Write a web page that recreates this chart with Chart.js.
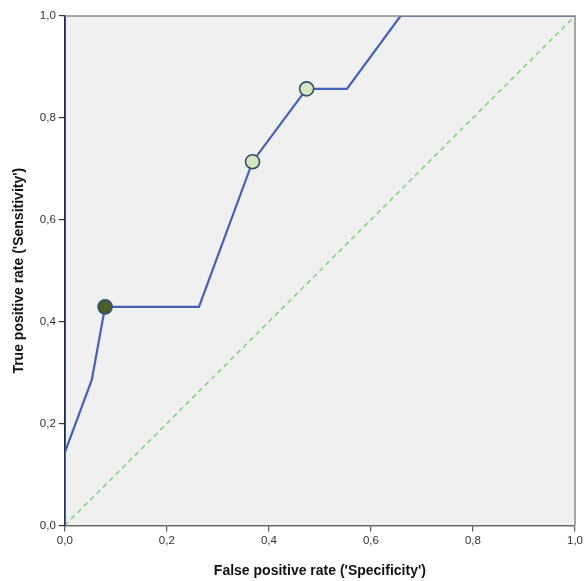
<!DOCTYPE html>
<html>
<head>
<meta charset="utf-8">
<script src="https://cdn.jsdelivr.net/npm/chart.js@4/dist/chart.umd.min.js"></script>
<style>
html,body{margin:0;padding:0;background:#fff;}
#wrap{width:584px;height:581px;position:relative;}
</style>
</head>
<body>
<div id="wrap"><canvas id="c"></canvas></div>
<script>
const rocFpr = [0, 0, 0.053, 0.079, 0.263, 0.368, 0.474, 0.553, 0.658, 1.0];
const rocTpr = [0, 0.143, 0.286, 0.429, 0.429, 0.714, 0.857, 0.857, 1.0, 1.0];
const markFpr = [0.079, 0.368, 0.474];
const markTpr = [0.429, 0.714, 0.857];
const markFill = ['#4b5f24', '#d8e6bf', '#d8e6bf'];
const diagX = [0, 1];
const diagY = [0, 1];
const tickVals = [0, 0.2, 0.4, 0.6, 0.8, 1.0];
const tickLabels = ['0,0', '0,2', '0,4', '0,6', '0,8', '1,0'];
const xTitle = "False positive rate ('Specificity')";
const yTitle = "True positive rate ('Sensitivity')";

const toPts = (xs, ys) => xs.map((x, i) => ({x: x, y: ys[i]}));

const bgPlugin = {
  id: 'bg',
  beforeDraw(chart) {
    const a = chart.chartArea, ctx = chart.ctx;
    ctx.save();
    ctx.fillStyle = '#f0f0f0';
    ctx.fillRect(a.left, a.top, a.right - a.left, a.bottom - a.top);
    ctx.restore();
  },
  afterDatasetsDraw(chart) {
    const a = chart.chartArea, ctx = chart.ctx;
    ctx.save();
    ctx.strokeStyle = '#8a8a8a';
    ctx.lineWidth = 1.5;
    ctx.beginPath();
    ctx.moveTo(a.left, a.top); ctx.lineTo(a.right, a.top); ctx.lineTo(a.right, a.bottom);
    ctx.stroke();
    ctx.restore();
  }
};

const fmt = v => {
  const i = tickVals.findIndex(t => Math.abs(t - v) < 1e-6);
  return i >= 0 ? tickLabels[i] : '';
};

new Chart(document.getElementById('c'), {
  type: 'scatter',
  data: {
    datasets: [
      {
        data: toPts(diagX, diagY),
        showLine: true,
        borderColor: '#6fcf6f',
        borderWidth: 1.3,
        borderDash: [5, 4],
        pointRadius: 0,
        order: 3
      },
      {
        data: toPts(rocFpr, rocTpr),
        showLine: true,
        borderColor: '#4460b8',
        borderWidth: 2.2,
        pointRadius: 0,
        order: 2
      },
      {
        data: toPts(markFpr, markTpr),
        showLine: false,
        pointRadius: 7,
        pointBackgroundColor: markFill,
        pointBorderColor: '#34506f',
        pointBorderWidth: 1.6,
        order: 1
      }
    ]
  },
  plugins: [bgPlugin],
  options: {
    responsive: true,
    maintainAspectRatio: false,
    animation: false,
    layout: {padding: {top: 16, right: 0, left: 11, bottom: 1}},
    plugins: {legend: {display: false}, tooltip: {enabled: false}},
    scales: {
      x: {
        type: 'linear', min: 0, max: 1,
        afterBuildTicks: s => { s.ticks = tickVals.map(v => ({value: v})); },
        afterFit: s => { s.paddingRight = 9; },
        ticks: {callback: v => fmt(v), color: '#333', font: {family: 'Liberation Sans, Arial', size: 11.5}, padding: 3, maxRotation: 0},
        grid: {drawOnChartArea: false, drawTicks: true, tickLength: 6, color: '#555', lineWidth: 1.2},
        border: {color: '#6a6a6a', width: 1.5},
        title: {display: true, text: xTitle, color: '#111', font: {family: 'Liberation Sans, Arial', size: 14, weight: 'bold'}, padding: {top: 12, bottom: 0}}
      },
      y: {
        type: 'linear', min: 0, max: 1,
        afterBuildTicks: s => { s.ticks = tickVals.map(v => ({value: v})); },
        ticks: {callback: v => fmt(v), color: '#333', font: {family: 'Liberation Sans, Arial', size: 11.5}, padding: 3},
        grid: {drawOnChartArea: false, drawTicks: true, tickLength: 6, color: '#333', lineWidth: 1.2},
        border: {color: '#1f2a44', width: 1.8},
        title: {display: true, text: yTitle, color: '#111', font: {family: 'Liberation Sans, Arial', size: 14, weight: 'bold'}, padding: {top: 0, bottom: 9}}
      }
    }
  }
});
</script>
</body>
</html>
